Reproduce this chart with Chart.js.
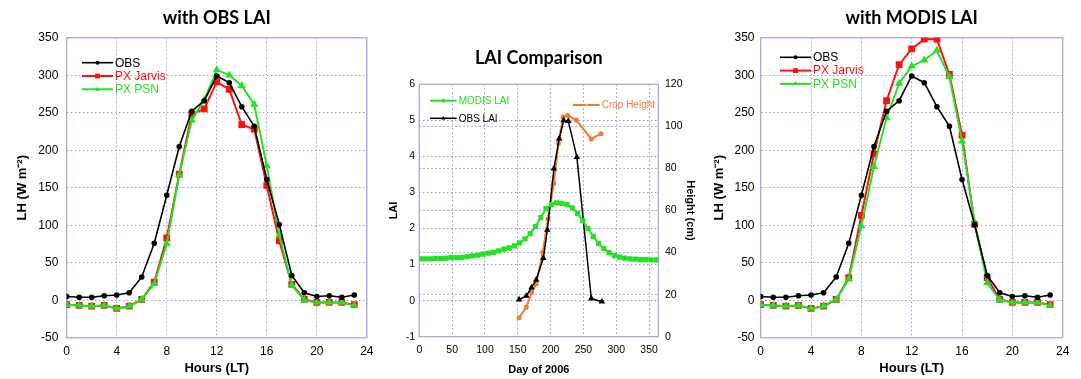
<!DOCTYPE html>
<html>
<head>
<meta charset="utf-8">
<script src="https://cdn.jsdelivr.net/npm/chart.js@4.4.0/dist/chart.umd.min.js"></script>
<style>
  body { margin: 0; background: #fff; width: 1081px; height: 379px; overflow: hidden; position: relative; }
  canvas { position: absolute; }
</style>
</head>
<body>
<canvas id="lhObs" width="380" height="379" style="left:0px;top:0px"></canvas>
<canvas id="laiComp" width="320" height="339" style="left:380px;top:40px"></canvas>
<canvas id="lhModis" width="381" height="379" style="left:700px;top:0px"></canvas>
<script>

// diurnal latent heat, hourly (W m-2)
var hours = [0,1,2,3,4,5,6,7,8,9,10,11,12,13,14,15,16,17,18,19,20,21,22,23];
var obsLH = [5,4,4,6,7,10,31,76,140,205,252,266,299,290,258,232,161,101,33,10,5,6,4,7];
var jarvisObsLai = [-6,-7,-8,-7,-11,-8,1,24,83,168,248,255,291,281,234,228,153,79,21,1,-3,-3,-3,-6];
var psnObsLai = [-6,-7,-8,-7,-11,-8,1,22,75,167,240,267,307,300,286,261,179,87,20,0,-3,-3,-3,-7];
var jarvisModisLai = [-6,-7,-8,-7,-11,-8,1,30,113,195,266,314,335,348,348,301,220,101,30,1,-3,-3,-3,-6];
var psnModisLai = [-6,-7,-8,-7,-11,-8,1,28,99,178,243,289,312,320,333,298,212,104,23,0,-3,-3,-3,-7];
var hourTicks = [0,4,8,12,16,20,24];
var lhTicks = [-50,0,50,100,150,200,250,300,350];

// LAI over the 2006 season
var modisDays = [1,9,17,25,33,41,49,57,65,73,81,89,97,105,113,121,129,137,145,153,161,169,177,185,193,201,209,217,225,233,241,249,257,265,273,281,289,297,305,313,321,329,337,345,353,361];
var modisLai = [1.16,1.16,1.16,1.17,1.17,1.18,1.19,1.19,1.20,1.22,1.24,1.26,1.29,1.32,1.34,1.38,1.43,1.46,1.52,1.60,1.71,1.86,2.05,2.30,2.55,2.66,2.71,2.70,2.66,2.57,2.42,2.22,2.00,1.78,1.58,1.44,1.33,1.25,1.21,1.18,1.16,1.15,1.14,1.14,1.13,1.13];
var obsLaiDays = [152,163,171,178,189,195,205,213,220,227,240,262,278];
var obsLai = [0.03,0.13,0.36,0.58,1.18,1.96,3.66,4.49,5.0,4.98,3.98,0.06,-0.03];
var heightDays = [152,163,171,178,188,196,205,212,219,226,239,262,277];
var cropHeight = [9,14,21,25,40,56,73,92,104.5,105.2,103,94,96.5];
var dayTicks = [0,50,100,150,200,250,300,350];
var laiTicks = [-1,0,1,2,3,4,5,6];
var heightTicks = [0,20,40,60,80,100,120];

var RED = '#ff1010';
var GREEN = '#26e026';
var ORANGE = '#f07a30';
var FRAME = '#a3abe8';
var GRID = '#8f98e0';
var FONT = "'Liberation Sans', Arial, sans-serif";

function pares(xs, ys) {
  return xs.map(function(x, i) { return { x: x, y: ys[i] }; });
}

function fixTicks(list) {
  return function(scale) {
    scale.ticks = list.map(function(v) { return { value: v }; });
  };
}

function marker(ctx, style, x, y, r) {
  ctx.beginPath();
  if (style === 'rect') {
    var s = r * Math.SQRT1_2;
    ctx.rect(x - s, y - s, 2 * s, 2 * s);
  } else if (style === 'triangle') {
    ctx.moveTo(x, y - r);
    ctx.lineTo(x + r * 0.87, y + r * 0.5);
    ctx.lineTo(x - r * 0.87, y + r * 0.5);
    ctx.closePath();
  } else {
    ctx.arc(x, y, r, 0, Math.PI * 2);
  }
  ctx.fill();
}

// box round the plot area
var frame = {
  id: 'frame',
  beforeDatasetsDraw: function(chart) {
    var a = chart.chartArea, ctx = chart.ctx;
    ctx.save();
    ctx.strokeStyle = FRAME;
    ctx.lineWidth = 1.3;
    ctx.strokeRect(a.left, a.top, a.right - a.left, a.bottom - a.top);
    ctx.restore();
  }
};

// legend drawn inside the plot
var innerLegend = {
  id: 'innerLegend',
  afterDatasetsDraw: function(chart, args, opts) {
    var ctx = chart.ctx;
    opts.items.forEach(function(it) {
      var ds = chart.data.datasets[it.dataset];
      var len = opts.lineLength;
      ctx.save();
      ctx.strokeStyle = ds.borderColor;
      ctx.lineWidth = ds.borderWidth;
      ctx.beginPath();
      ctx.moveTo(it.x, it.y);
      ctx.lineTo(it.x + len, it.y);
      ctx.stroke();
      ctx.fillStyle = ds.backgroundColor;
      marker(ctx, ds.pointStyle, it.x + len / 2, it.y, ds.pointRadius);
      ctx.fillStyle = it.color || ds.borderColor;
      ctx.font = opts.font;
      ctx.textBaseline = 'middle';
      ctx.fillText(ds.label, it.x + len + 2, it.y + 0.5);
      ctx.restore();
    });
  }
};

function ejeGrid() {
  return { color: GRID, lineWidth: 1, drawTicks: false };
}

function graficaLH(id, titulo, jarvis, psn, g) {
  var datasets = [
    { label: 'OBS', data: pares(hours, obsLH), borderColor: '#000', backgroundColor: '#000',
      borderWidth: 1.6, pointStyle: 'circle', pointRadius: 2, order: 0 },
    { label: 'PX Jarvis', data: pares(hours, jarvis), borderColor: RED, backgroundColor: RED,
      borderWidth: 2, pointStyle: 'rect', pointRadius: 3.4, order: 2 },
    { label: 'PX PSN', data: pares(hours, psn), borderColor: GREEN, backgroundColor: GREEN,
      borderWidth: 2, pointStyle: 'triangle', pointRadius: 2.8, order: 1 }
  ];

  return new Chart(document.getElementById(id), {
    type: 'line',
    data: { datasets: datasets },
    options: {
      responsive: false,
      animation: false,
      layout: { padding: { left: 0, right: g.right, top: 0, bottom: 0 } },
      elements: { line: { tension: 0 }, point: { borderWidth: 0 } },
      plugins: {
        legend: { display: false },
        tooltip: { enabled: false },
        title: {
          display: true, text: titulo, fullSize: false, color: '#000',
          font: { family: 'Lato', size: 18, weight: 'bold', lineHeight: 1.2 },
          padding: { top: 7.5, bottom: 8.6 }
        },
        innerLegend: { lineLength: 31, font: '12px ' + FONT, items: [
          { dataset: 0, x: g.legX, y: g.legY },
          { dataset: 1, x: g.legX, y: g.legY + 13.3 },
          { dataset: 2, x: g.legX, y: g.legY + 26.6 }
        ] }
      },
      scales: {
        x: {
          type: 'linear', min: 0, max: 24,
          afterBuildTicks: fixTicks(hourTicks),
          afterFit: function(s) { s.height = 41.3; },
          grid: ejeGrid(),
          border: { display: false, dash: [1.5, 2.5] },
          ticks: { color: '#000', padding: 6.5, font: { family: FONT, size: 12 } },
          title: { display: true, text: 'Hours (LT)', color: '#000', padding: { top: 0, bottom: 2.5 },
            font: { family: FONT, size: 13, weight: 'bold' } }
        },
        y: {
          min: -50, max: 350,
          afterBuildTicks: fixTicks(lhTicks),
          afterFit: function(s) { s.width = g.left; },
          grid: ejeGrid(),
          border: { display: false, dash: [1.5, 2.5] },
          ticks: { color: '#000', padding: g.tickPad, font: { family: FONT, size: 12 } },
          title: { display: true, text: 'LH (W m\u207B\u00B2)', color: '#000', padding: { top: g.titlePad, bottom: 0 },
            font: { family: FONT, size: 13, weight: 'bold' } }
        }
      }
    },
    plugins: [frame, innerLegend]
  });
}

graficaLH('lhObs', 'with OBS LAI', jarvisObsLai, psnObsLai,
  { left: 66.7, right: 12, legX: 82, legY: 62.7, tickPad: 8.4, titlePad: 14.7 });
graficaLH('lhModis', 'with MODIS LAI', jarvisModisLai, psnModisLai,
  { left: 60.7, right: 18.3, legX: 80, legY: 57.3, tickPad: 6.2, titlePad: 11.2 });

// LAI comparison with crop height on the second axis
new Chart(document.getElementById('laiComp'), {
  type: 'line',
  data: {
    datasets: [
      { label: 'MODIS LAI', data: pares(modisDays, modisLai), yAxisID: 'y', borderColor: GREEN, backgroundColor: GREEN,
        borderWidth: 2, pointStyle: 'rect', pointRadius: 2.3 },
      { label: 'OBS LAI', data: pares(obsLaiDays, obsLai), yAxisID: 'y', borderColor: '#000', backgroundColor: '#000',
        borderWidth: 1.5, pointStyle: 'triangle', pointRadius: 2.3 },
      { label: 'Crop Height', data: pares(heightDays, cropHeight), yAxisID: 'y2', borderColor: ORANGE, backgroundColor: '#f5a676',
        borderWidth: 2, pointStyle: 'circle', pointRadius: 1.5 }
    ]
  },
  options: {
    responsive: false,
    animation: false,
    layout: { padding: 0 },
    elements: { line: { tension: 0 }, point: { borderWidth: 0 } },
    plugins: {
      legend: { display: false },
      tooltip: { enabled: false },
      title: {
        display: true, text: 'LAI Comparison', fullSize: false, color: '#000',
        font: { family: 'Lato', size: 18, weight: 'bold', lineHeight: 1.2 },
        padding: { top: 7.5, bottom: 15.2 }
      },
      innerLegend: { lineLength: 26.7, font: '10px ' + FONT, items: [
        { dataset: 0, x: 50, y: 60.7 },
        { dataset: 1, x: 50, y: 78.3 },
        { dataset: 2, x: 193, y: 65, color: ORANGE }
      ] }
    },
    scales: {
      x: {
        type: 'linear', min: 0, max: 364,
        afterBuildTicks: fixTicks(dayTicks),
        afterFit: function(s) { s.height = 42.3; },
        grid: ejeGrid(),
        border: { display: false, dash: [1.5, 2.5] },
        ticks: { color: '#000', padding: 7, font: { family: FONT, size: 10.5 } },
        title: { display: true, text: 'Day of 2006', color: '#000', padding: { top: 0, bottom: 2.4 },
          font: { family: FONT, size: 11, weight: 'bold' } }
      },
      y: {
        position: 'left', min: -1, max: 6,
        afterBuildTicks: fixTicks(laiTicks),
        afterFit: function(s) { s.width = 39.3; },
        grid: ejeGrid(),
        border: { display: false, dash: [1.5, 2.5] },
        ticks: { color: '#000', padding: 4.3, font: { family: FONT, size: 10.5 } },
        title: { display: true, text: 'LAI', color: '#000', padding: { top: 7.4, bottom: 0 },
          font: { family: FONT, size: 11, weight: 'bold' } }
      },
      y2: {
        position: 'right', min: 0, max: 120,
        afterBuildTicks: fixTicks(heightTicks),
        afterFit: function(s) { s.width = 41.7; },
        grid: ejeGrid(),
        border: { display: false, dash: [1.5, 2.5] },
        ticks: { color: '#000', padding: 6.7, font: { family: FONT, size: 10.5 } },
        title: { display: true, text: 'Height (cm)', color: '#000', padding: { top: 3.4, bottom: 0 },
          font: { family: FONT, size: 11, weight: 'bold' } }
      }
    }
  },
  plugins: [frame, innerLegend]
});
</script>
</body>
</html>
